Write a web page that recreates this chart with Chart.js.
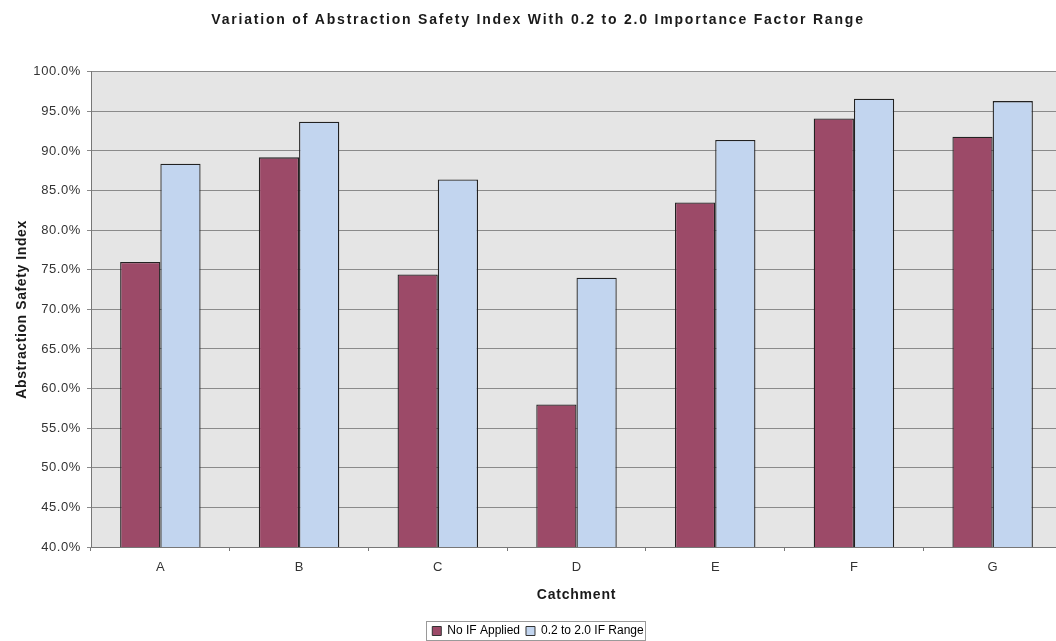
<!DOCTYPE html>
<html>
<head>
<meta charset="utf-8">
<script src="https://cdn.jsdelivr.net/npm/chart.js@4/dist/chart.umd.min.js"></script>
<style>
  html, body { margin: 0; padding: 0; background: #fff; overflow: hidden; }
  #wrap { width: 1062px; height: 641px; }
</style>
</head>
<body>
<div id="wrap"><canvas id="asi"></canvas></div>
<script>
const catchments = ['A', 'B', 'C', 'D', 'E', 'F', 'G'];
const noIF = [76.0, 89.2, 74.4, 58.0, 83.5, 94.1, 91.8];
const ifRange = [88.4, 93.7, 86.4, 74.0, 91.4, 96.6, 96.3];

const FONT = '"Liberation Sans", Arial, sans-serif';

// grey plot background
const plotBg = {
    id: 'plotBg',
    beforeDraw(chart) {
        const { ctx, chartArea: a } = chart;
        ctx.save();
        ctx.fillStyle = '#e5e5e5';
        ctx.fillRect(a.left, a.top, a.right - a.left, a.bottom - a.top);
        ctx.restore();
    }
};

// wraps a draw method so its text is drawn with extra letter spacing
function spaced(obj, method, spacing) {
    const orig = obj[method];
    if (!orig || orig._spaced) return;
    const fn = function (...args) {
        const ctx = this.ctx || this.chart.ctx;
        const prev = ctx.letterSpacing;
        ctx.letterSpacing = spacing;
        orig.apply(this, args);
        ctx.letterSpacing = prev;
    };
    fn._spaced = true;
    obj[method] = fn;
}

const wideText = {
    id: 'wideText',
    beforeDraw(chart) {
        spaced(chart.titleBlock, 'draw', '1.8px');
        spaced(chart.scales.x, 'drawTitle', '0.8px');
        spaced(chart.scales.y, 'drawTitle', '0.6px');
        spaced(chart.scales.y, 'drawLabels', '0.6px');
    }
};

// thin frame around the legend entries
const legendFrame = {
    id: 'legendFrame',
    afterDraw(chart) {
        const boxes = chart.legend.legendHitBoxes;
        if (!boxes || !boxes.length) return;
        const ctx = chart.ctx;
        let l = Infinity, r = -Infinity, t = Infinity, b = -Infinity;
        boxes.forEach(h => {
            l = Math.min(l, h.left); r = Math.max(r, h.left + h.width);
            t = Math.min(t, h.top); b = Math.max(b, h.top + h.height);
        });
        ctx.save();
        ctx.strokeStyle = '#9a9a9a';
        ctx.lineWidth = 1;
        ctx.strokeRect(Math.round(l - 6) + 0.5, Math.round(t - 4) + 0.5, Math.round(r - l + 8), Math.round(b - t + 7));
        ctx.restore();
    }
};

new Chart(document.getElementById('asi'), {
    type: 'bar',
    data: {
        labels: catchments,
        datasets: [
            {
                label: 'No IF Applied',
                data: noIF,
                backgroundColor: '#9c4a68',
                borderColor: '#222',
                borderWidth: 1.3
            },
            {
                label: '0.2 to 2.0 IF Range',
                data: ifRange,
                backgroundColor: '#c2d5ef',
                borderColor: '#222',
                borderWidth: 1.3
            }
        ]
    },
    options: {
        responsive: true,
        maintainAspectRatio: false,
        animation: false,
        datasets: { bar: { categoryPercentage: 0.58, barPercentage: 1.0 } },
        layout: { padding: { left: 14, right: 0, top: 0, bottom: -6 } },
        plugins: {
            title: {
                display: true,
                text: 'Variation of Abstraction Safety Index With 0.2 to 2.0 Importance Factor Range',
                color: '#1a1a1a',
                font: { family: FONT, size: 14, weight: 'bold' },
                padding: { top: 12, bottom: 43 }
            },
            legend: {
                position: 'bottom',
                labels: {
                    color: '#222',
                    font: { family: FONT, size: 12 },
                    boxWidth: 9,
                    boxHeight: 9,
                    padding: 6,
                    generateLabels(chart) {
                        return chart.data.datasets.map((ds, i) => ({
                            text: ds.label,
                            fillStyle: ds.backgroundColor,
                            strokeStyle: '#333',
                            lineWidth: 1,
                            datasetIndex: i
                        }));
                    }
                }
            },
            tooltip: { enabled: false }
        },
        scales: {
            x: {
                offset: true,
                grid: {
                    display: true,
                    drawOnChartArea: false,
                    drawTicks: true,
                    tickLength: 4,
                    color: '#777',
                    offset: true
                },
                border: { color: '#777' },
                ticks: {
                    color: '#333',
                    font: { family: FONT, size: 13 },
                    padding: 9
                },
                title: {
                    display: true,
                    text: 'Catchment',
                    color: '#1a1a1a',
                    font: { family: FONT, size: 14, weight: 'bold' },
                    padding: { top: 2, bottom: 15 }
                },
                afterFit(scale) { scale.height = 72; }
            },
            y: {
                min: 40,
                max: 100,
                grid: {
                    color: '#8a8a8a',
                    tickLength: 4,
                    drawTicks: true
                },
                border: { color: '#777' },
                ticks: {
                    stepSize: 5,
                    color: '#333',
                    font: { family: FONT, size: 13 },
                    padding: 6,
                    callback: v => v.toFixed(1) + '%'
                },
                title: {
                    display: true,
                    text: 'Abstraction Safety Index',
                    color: '#1a1a1a',
                    font: { family: FONT, size: 14, weight: 'bold' },
                    padding: { top: 0, bottom: 5 }
                },
                afterFit(scale) { scale.width = 77; }
            }
        }
    },
    plugins: [plotBg, wideText, legendFrame]
});
</script>
</body>
</html>
